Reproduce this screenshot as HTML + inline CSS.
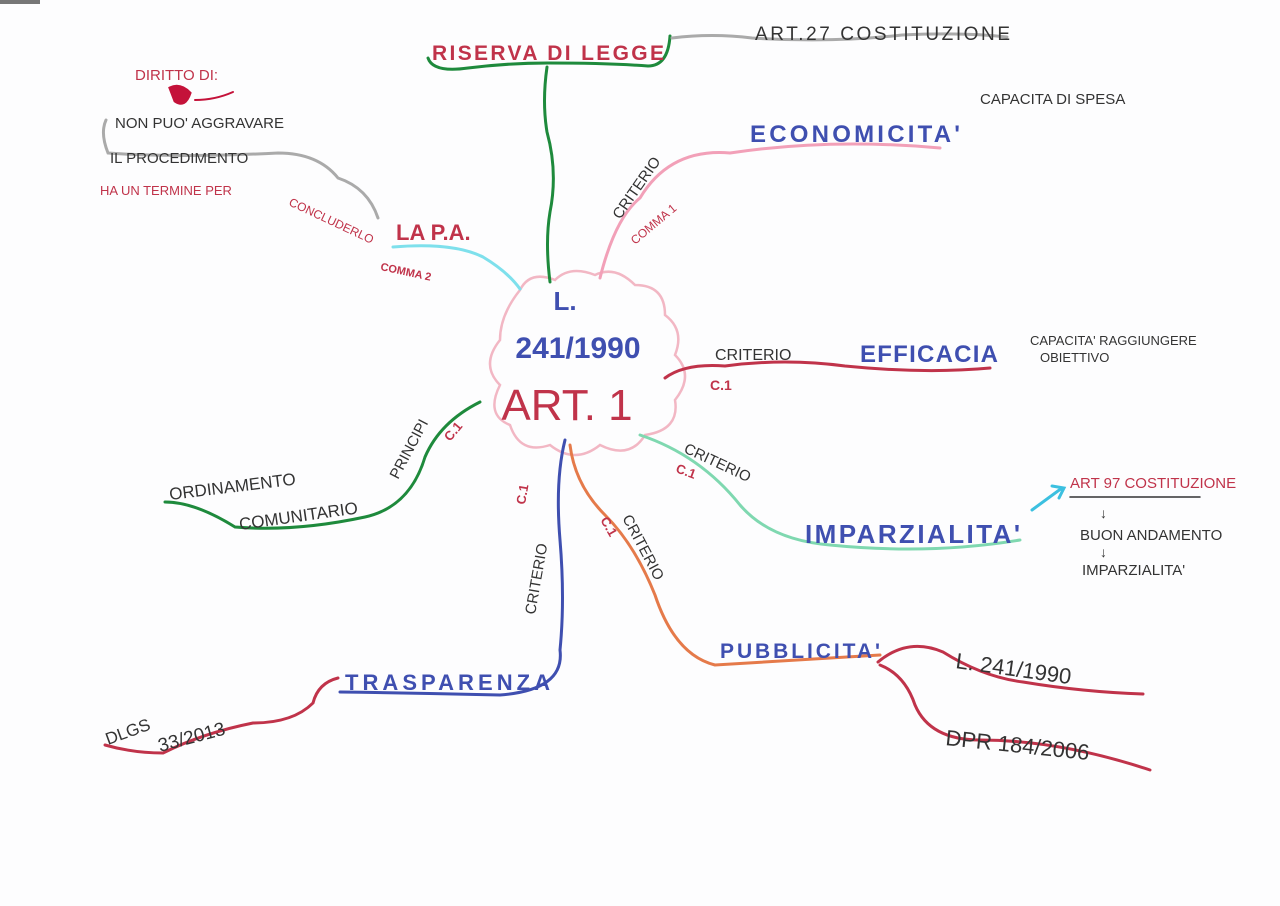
<!DOCTYPE html>
<html><head><meta charset="utf-8"><style>
html,body{margin:0;padding:0;background:#fdfdfe;}
svg{display:block;}
text{font-family:"Liberation Sans",sans-serif;}
</style></head><body>
<svg width="1280" height="906" viewBox="0 0 1280 906" xmlns="http://www.w3.org/2000/svg">
<rect width="1280" height="906" fill="#fdfdfe"/>
<rect x="0" y="0" width="40" height="4" fill="#777"/>
<g fill="none" stroke-linecap="round" stroke-width="3">
<!-- cloud -->
<path d="M520,290 q10,-20 35,-10 q15,-15 40,-5 q20,-10 40,10 q30,0 30,30 q20,15 10,40 q20,20 0,45 q5,30 -30,35 q-15,25 -45,10 q-25,20 -50,0 q-30,10 -40,-20 q-25,-10 -10,-40 q-20,-20 0,-45 q0,-25 20,-50z" stroke="#f2b7c4" stroke-width="2.5"/>
<!-- green top -->
<path d="M550,282 q-5,-40 0,-70 q8,-40 -3,-80 q-5,-30 0,-65" stroke="#1e8a3c"/>
<path d="M428,58 q5,15 40,10 q40,-5 80,-5 q60,0 100,3 q20,0 22,-30" stroke="#1e8a3c"/>
<path d="M672,38 q40,-5 80,0 q80,5 150,-3 q60,-3 105,2" stroke="#aaa"/>
<!-- economicita -->
<path d="M600,278 q15,-60 40,-80 q30,-50 90,-45 q100,-15 210,-5" stroke="#f2a0b8"/>
<!-- efficacia -->
<path d="M665,378 q20,-15 60,-12 q60,-8 120,0 q80,8 145,2" stroke="#c0334a"/>
<!-- imparzialita -->
<path d="M640,435 q60,20 100,70 q30,35 90,40 q100,10 190,-5" stroke="#7fd8b0"/>
<path d="M1032,510 l30,-22 m-10,-2 l12,2 l-5,10" stroke="#3cc0e0"/>
<path d="M1070,497 l130,0" stroke="#333" stroke-width="1.5"/>
<!-- pubblicita -->
<path d="M570,445 q5,40 35,70 q30,30 50,80 q20,60 60,70 q80,-5 165,-10" stroke="#e57a4a"/>
<path d="M878,662 q30,-25 65,-10 q40,25 80,30 q60,10 120,12" stroke="#c0334a"/>
<path d="M880,665 q25,10 35,40 q15,35 65,35 q80,0 170,30" stroke="#c0334a"/>
<!-- trasparenza -->
<path d="M565,440 q-10,40 -5,100 q5,60 0,110 q5,40 -60,45 q-80,-2 -160,-3" stroke="#3f4fb0"/>
<path d="M338,678 q-20,5 -25,25 q-20,20 -60,20 q-50,10 -90,30 q-30,0 -58,-8" stroke="#c0334a"/>
<!-- ordinamento -->
<path d="M480,402 q-40,20 -55,55 q-15,50 -60,60 q-70,15 -130,10 q-40,-25 -70,-25" stroke="#1e8a3c"/>
<!-- la pa -->
<path d="M393,247 q60,-5 90,10 q25,15 37,32" stroke="#7ee0ec"/>
<path d="M378,218 q-10,-30 -40,-40 q-20,-25 -60,-25 q-100,5 -170,0 q-8,-20 -2,-33" stroke="#aaa"/>
<path d="M170,88 q10,-5 20,5 q-5,15 -15,8z" fill="#c4123a" stroke="#c4123a"/>
<path d="M195,100 q20,0 38,-8" stroke="#c4123a" stroke-width="2"/>
</g>
<g font-weight="bold">
<text x="565" y="310" fill="#3f4fb0" font-size="26" text-anchor="middle">L.</text>
<text x="578" y="358" fill="#3f4fb0" font-size="30" text-anchor="middle">241/1990</text>
<text x="567" y="420" fill="#c0334a" font-size="44" text-anchor="middle" font-weight="normal">ART. 1</text>
<text x="432" y="60" fill="#c0334a" font-size="21" textLength="232">RISERVA DI LEGGE</text>
<text x="755" y="40" fill="#333" font-size="19" font-weight="normal" textLength="255">ART.27 COSTITUZIONE</text>
<text x="750" y="142" fill="#3f4fb0" font-size="24" textLength="210">ECONOMICITA'</text>
<text x="980" y="104" fill="#333" font-size="15" font-weight="normal">CAPACITA DI SPESA</text>
<text x="860" y="362" fill="#3f4fb0" font-size="24" textLength="138">EFFICACIA</text>
<text x="715" y="360" fill="#333" font-size="16" font-weight="normal">CRITERIO</text>
<text x="710" y="390" fill="#c0334a" font-size="14">C.1</text>
<text x="1030" y="345" fill="#333" font-size="13" font-weight="normal">CAPACITA' RAGGIUNGERE</text>
<text x="1040" y="362" fill="#333" font-size="13" font-weight="normal">OBIETTIVO</text>
<text x="805" y="543" fill="#3f4fb0" font-size="26" textLength="215">IMPARZIALITA'</text>
<text x="1070" y="488" fill="#c0334a" font-size="15" font-weight="normal">ART 97 COSTITUZIONE</text>
<text x="1100" y="518" fill="#333" font-size="14" font-weight="normal">↓</text>
<text x="1080" y="540" fill="#333" font-size="15" font-weight="normal">BUON ANDAMENTO</text>
<text x="1100" y="557" fill="#333" font-size="14" font-weight="normal">↓</text>
<text x="1082" y="575" fill="#333" font-size="15" font-weight="normal">IMPARZIALITA'</text>
<text x="720" y="658" fill="#3f4fb0" font-size="21" textLength="160">PUBBLICITA'</text>
<text x="955" y="668" fill="#333" font-size="22" font-weight="normal" transform="rotate(8 955 668)">L. 241/1990</text>
<text x="945" y="745" fill="#333" font-size="22" font-weight="normal" transform="rotate(6 945 745)">DPR 184/2006</text>
<text x="345" y="690" fill="#3f4fb0" font-size="22" textLength="205">TRASPARENZA</text>
<text x="108" y="745" fill="#333" font-size="17" font-weight="normal" transform="rotate(-20 108 745)">DLGS</text>
<text x="160" y="752" fill="#333" font-size="19" font-weight="normal" transform="rotate(-15 160 752)">33/2013</text>
<text x="170" y="500" fill="#333" font-size="17" font-weight="normal" transform="rotate(-7 170 500)">ORDINAMENTO</text>
<text x="240" y="530" fill="#333" font-size="17" font-weight="normal" transform="rotate(-8 240 530)">COMUNITARIO</text>
<text x="398" y="480" fill="#333" font-size="15" font-weight="normal" transform="rotate(-62 398 480)">PRINCIPI</text>
<text x="450" y="442" fill="#c0334a" font-size="13" transform="rotate(-50 450 442)">C.1</text>
<text x="396" y="240" fill="#c0334a" font-size="22">LA P.A.</text>
<text x="380" y="270" fill="#c0334a" font-size="11" transform="rotate(12 380 270)">COMMA 2</text>
<text x="135" y="80" fill="#c0334a" font-size="15" font-weight="normal">DIRITTO DI:</text>
<text x="115" y="128" fill="#333" font-size="15" font-weight="normal">NON PUO' AGGRAVARE</text>
<text x="110" y="163" fill="#333" font-size="15" font-weight="normal">IL PROCEDIMENTO</text>
<text x="100" y="195" fill="#c0334a" font-size="13" font-weight="normal">HA UN TERMINE PER</text>
<text x="288" y="205" fill="#c0334a" font-size="12" font-weight="normal" transform="rotate(25 288 205)">CONCLUDERLO</text>
<text x="620" y="220" fill="#333" font-size="15" font-weight="normal" transform="rotate(-55 620 220)">CRITERIO</text>
<text x="635" y="245" fill="#c0334a" font-size="12" font-weight="normal" transform="rotate(-40 635 245)">COMMA 1</text>
<text x="683" y="452" fill="#333" font-size="15" font-weight="normal" transform="rotate(25 683 452)">CRITERIO</text>
<text x="675" y="472" fill="#c0334a" font-size="13" transform="rotate(20 675 472)">C.1</text>
<text x="525" y="505" fill="#c0334a" font-size="13" transform="rotate(-80 525 505)">C.1</text>
<text x="535" y="615" fill="#333" font-size="15" font-weight="normal" transform="rotate(-80 535 615)">CRITERIO</text>
<text x="600" y="520" fill="#c0334a" font-size="13" transform="rotate(60 600 520)">C.1</text>
<text x="622" y="518" fill="#333" font-size="15" font-weight="normal" transform="rotate(62 622 518)">CRITERIO</text>
</g>
</svg>
</body></html>
